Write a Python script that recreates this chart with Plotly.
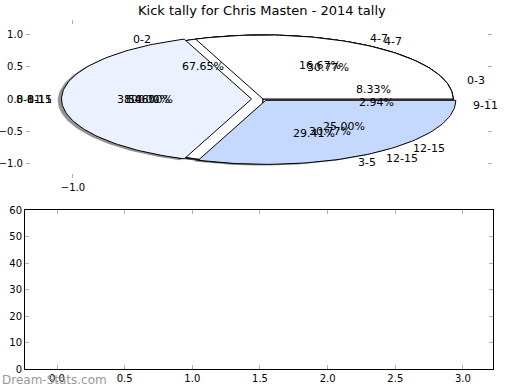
import math
import plotly.graph_objects as go

title_text = "Kick tally for Chris Masten - 2014 tally"
watermark = "Dream-Stats.com"

# pies, listed in drawing order (bottom first)
pie_d_labels = ["0-15"]
pie_d_values = [1]
pie_a_labels = ["0-2", "3-5", "9-11"]
pie_a_values = [23, 10, 1]
pie_b_labels = ["0-3", "4-7", "8-11", "12-15"]
pie_b_values = [1, 2, 6, 3]
pie_c_labels = ["4-7", "8-11", "12-15"]
pie_c_values = [4, 5, 4]

pie_y_ticks = [1.0, 0.5, 0.0, -0.5, -1.0]
pie_x_ticks = [-1.0]
bar_x_ticks = [0.0, 0.5, 1.0, 1.5, 2.0, 2.5, 3.0]
bar_y_ticks = [0, 10, 20, 30, 40, 50, 60]

# styles
pie_d_colors = ["#ffffff"]
pie_a_colors = ["#ffffff", "#ffffff", "#1a1a3a"]
pie_b_colors = ["#ffffff", "#ffffff", "#ffffff", "#ffffff"]
pie_c_colors = ["#ffffff", "#ebf1fe", "#c5d8fe"]
pie_d_explode = [0]
pie_a_explode = [0, 0, 0]
pie_b_explode = [0, 0, 0, 0]
pie_c_explode = [0, 0.06, 0.025]

pies = [
    (pie_d_labels, pie_d_values, pie_d_colors, pie_d_explode),
    (pie_a_labels, pie_a_values, pie_a_colors, pie_a_explode),
    (pie_b_labels, pie_b_values, pie_b_colors, pie_b_explode),
    (pie_c_labels, pie_c_values, pie_c_colors, pie_c_explode),
]

FONT = "DejaVu Sans"
fig = go.Figure()
annotations = []
shadow_traces = []
wedge_traces = []

for labels, values, colors, explode in pies:
    total = float(sum(values))
    t1 = 0.0
    for lab, v, col, ex in zip(labels, values, colors, explode):
        t2 = t1 + 360.0 * v / total
        mid = math.radians((t1 + t2) / 2)
        cx, cy = ex * math.cos(mid), ex * math.sin(mid)
        n = max(2, int(abs(t2 - t1) / 1.5))
        arc = [t1 + (t2 - t1) * i / n for i in range(n + 1)]
        if t2 - t1 >= 359.999:
            xs = [cx + math.cos(math.radians(t)) for t in arc]
            ys = [cy + math.sin(math.radians(t)) for t in arc]
        else:
            xs = [cx] + [cx + math.cos(math.radians(t)) for t in arc] + [cx]
            ys = [cy] + [cy + math.sin(math.radians(t)) for t in arc] + [cy]
        shadow_traces.append(go.Scatter(
            x=[x - 0.02 for x in xs], y=[y - 0.02 for y in ys],
            fill="toself", fillcolor="rgba(40,40,40,0.5)", mode="lines",
            line=dict(width=0, color="rgba(0,0,0,0)"), hoverinfo="skip",
            xaxis="x", yaxis="y"))
        wedge_traces.append(go.Scatter(
            x=xs, y=ys, fill="toself", fillcolor=col, mode="lines",
            line=dict(width=1, color="black"), hoverinfo="skip",
            xaxis="x", yaxis="y"))
        lx, ly = cx + 1.1 * math.cos(mid), cy + 1.1 * math.sin(mid)
        annotations.append(dict(
            x=lx, y=ly, xref="x", yref="y", text=lab, showarrow=False,
            xanchor="left" if lx > 0 else "right", yanchor="middle",
            font=dict(family=FONT, size=11, color="black")))
        px, py = cx + 0.6 * math.cos(mid), cy + 0.6 * math.sin(mid)
        annotations.append(dict(
            x=px, y=py, xref="x", yref="y", text="%1.2f%%" % (100.0 * v / total),
            showarrow=False, xanchor="center", yanchor="middle",
            font=dict(family=FONT, size=11, color="black")))
        t1 = t2

for t in shadow_traces + wedge_traces:
    fig.add_trace(t)

# empty bottom axes
fig.add_trace(go.Scatter(x=[], y=[], xaxis="x2", yaxis="y2", mode="markers",
                         hoverinfo="skip"))

W, H = 520, 390
annotations.append(dict(
    x=262 / W, y=1 - 10 / H, xref="paper", yref="paper", text=title_text,
    showarrow=False, xanchor="center", yanchor="middle",
    font=dict(family=FONT, size=13, color="black")))
annotations.append(dict(
    x=0, y=1 - 380 / H, xref="paper", yref="paper", text=watermark,
    showarrow=False, xanchor="left", yanchor="middle",
    font=dict(family=FONT, size=12, color="#999999")))

tickfont = dict(family=FONT, size=10, color="black")
fig.update_layout(
    autosize=True, margin=dict(l=0, r=0, t=0, b=0, autoexpand=False),
    paper_bgcolor="white", plot_bgcolor="white", showlegend=False,
    annotations=annotations,
    xaxis=dict(domain=[26 / W, 492 / W], range=[-1.247, 1.205],
               tickvals=pie_x_ticks, ticktext=["\u22121.0"],
               ticks="inside", ticklen=4, tickcolor="#b0b0b0",
               showline=True, linecolor="rgba(0,0,0,0)", mirror="ticks",
               showgrid=False, zeroline=False, tickfont=tickfont,
               anchor="y", fixedrange=True),
    yaxis=dict(domain=[1 - 178 / H, 1 - 20 / H], range=[-1.234, 1.234],
               tickvals=pie_y_ticks, tickformat=".1f",
               ticks="inside", ticklen=4, tickcolor="#b0b0b0",
               showline=True, linecolor="rgba(0,0,0,0)", mirror="ticks",
               showgrid=False, zeroline=False, tickfont=tickfont,
               anchor="x", fixedrange=True),
    xaxis2=dict(domain=[25 / W, 493 / W], range=[-0.2365, 3.222],
                tickvals=bar_x_ticks, tickformat=".1f",
                ticks="inside", ticklen=4, tickcolor="#b0b0b0",
                showline=True, linecolor="black", linewidth=1, mirror="ticks",
                showgrid=False, zeroline=False, tickfont=tickfont,
                anchor="y2", fixedrange=True),
    yaxis2=dict(domain=[1 - 369 / H, 1 - 210 / H], range=[0, 60],
                tickvals=bar_y_ticks,
                ticks="inside", ticklen=4, tickcolor="#b0b0b0",
                showline=True, linecolor="black", linewidth=1, mirror="ticks",
                showgrid=False, zeroline=False, tickfont=tickfont,
                anchor="x2", fixedrange=True),
)

post = (
    "var de=document.documentElement,b=document.body;"
    "de.style.margin='0';de.style.padding='0';de.style.height='100%';de.style.overflow='hidden';"
    "b.style.margin='0';b.style.padding='0';b.style.height='100%';b.style.overflow='hidden';"
    "var gd=document.getElementById('{plot_id}');"
    "gd.style.width='100vw';gd.style.height='100vh';"
    "Plotly.Plots.resize(gd);"
)
fig.write_html("out.html", config={"displayModeBar": False, "responsive": True},
               default_width="100vw", default_height="100vh",
               post_script=post)
